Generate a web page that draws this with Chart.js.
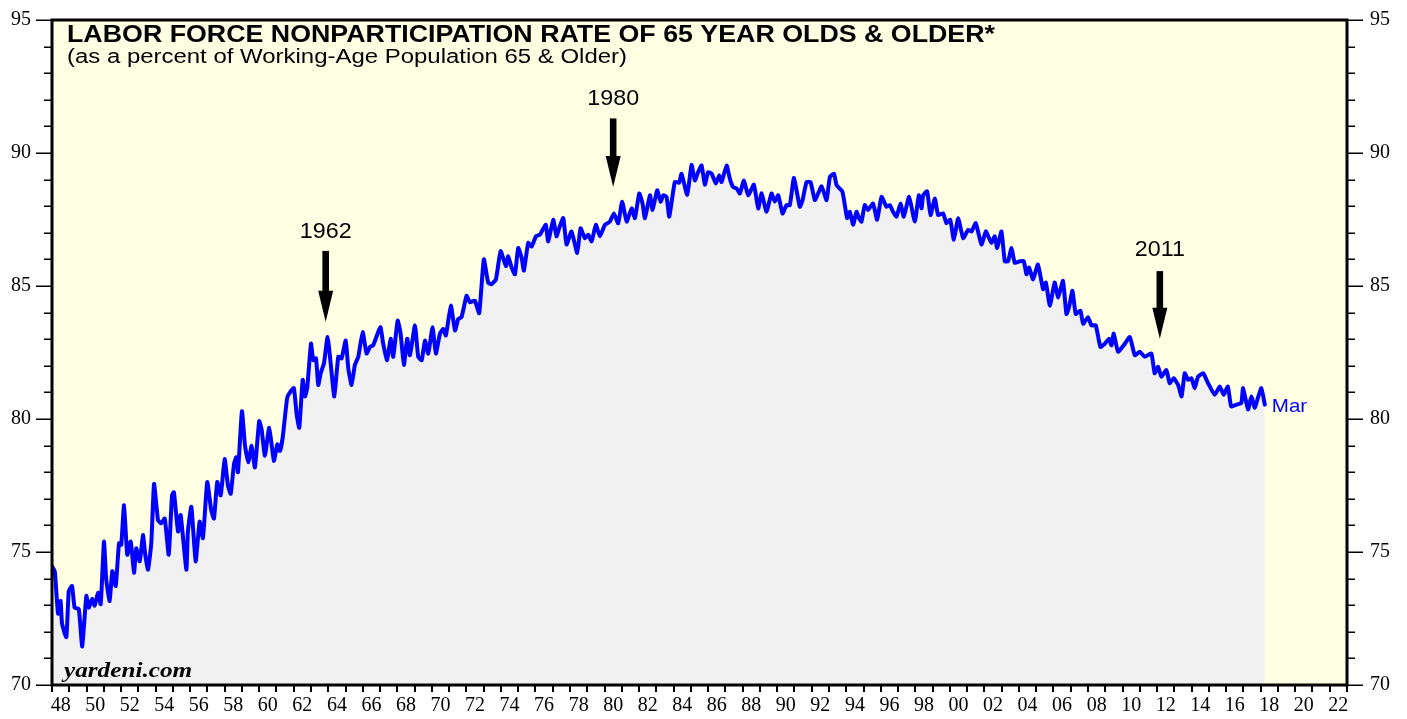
<!DOCTYPE html>
<html>
<head>
<meta charset="utf-8">
<script src="https://cdn.jsdelivr.net/npm/chart.js@4.4.1/dist/chart.umd.min.js"></script>
<style>
html,body{margin:0;padding:0;background:#ffffff;}
#wrap{width:1407px;height:719px;position:relative;overflow:hidden;}
canvas{display:block;background:#ffffff;}
</style>
</head>
<body>
<div id="wrap"><canvas id="c" width="1407" height="719"></canvas></div>
<script>
// ---------- DATA (decimal year, percent) ----------
const dates1940s = [1948.00,1948.16,1948.35,1948.50,1948.58,1948.83,1948.97,1949.16,1949.31,1949.55,1949.75,1949.99];
const rates1940s = [74.46,74.28,72.68,73.16,72.31,71.80,73.53,73.72,72.91,72.86,71.45,73.35];

const dates1950s = [1950.13,1950.32,1950.47,1950.66,1950.82,1951.01,1951.14,1951.34,1951.49,1951.69,1951.88,1952.01,1952.17,1952.36,1952.56,1952.75,1952.88,1953.08,1953.27,1953.40,1953.56,1953.75,1953.91,1954.14,1954.33,1954.53,1954.76,1954.95,1955.06,1955.30,1955.45,1955.78,1955.87,1956.07,1956.32,1956.55,1956.74,1956.99,1957.22,1957.38,1957.57,1957.77,1958.00,1958.19,1958.35,1958.54,1958.67,1958.77,1959.00,1959.18,1959.37,1959.56,1959.75];
const rates1950s = [72.91,73.24,72.98,73.47,73.04,75.39,73.97,73.16,74.28,73.72,75.33,75.27,76.76,74.90,75.39,74.22,75.14,74.65,75.64,74.90,74.34,75.33,77.56,76.20,76.08,76.26,74.90,77.13,77.25,75.77,76.39,74.34,75.77,76.70,74.65,76.14,75.52,77.63,76.57,76.26,77.63,77.13,78.49,77.50,77.19,78.31,78.56,78.00,80.29,78.99,78.37,78.99,78.18];

const dates1960s = [1960.00,1960.14,1960.33,1960.58,1960.85,1961.05,1961.20,1961.36,1961.62,1961.82,1962.01,1962.17,1962.32,1962.52,1962.65,1962.78,1963.00,1963.13,1963.29,1963.42,1963.56,1963.75,1963.96,1964.15,1964.35,1964.58,1964.77,1965.01,1965.16,1965.35,1965.54,1965.74,1965.99,1966.22,1966.41,1966.60,1966.89,1967.03,1967.18,1967.41,1967.61,1967.76,1968.02,1968.19,1968.38,1968.57,1968.73,1969.02,1969.21,1969.41,1969.60,1969.79];
const rates1960s = [79.92,79.61,78.62,79.67,78.43,79.05,78.80,79.30,80.79,81.04,81.16,80.17,79.67,81.47,80.85,81.16,82.83,82.21,82.28,81.28,81.72,82.09,83.08,82.03,80.85,82.34,82.28,82.95,81.90,81.28,82.03,82.34,83.27,82.46,82.71,82.77,83.27,83.45,82.83,82.21,83.02,82.34,83.70,83.21,82.03,83.02,82.40,83.52,82.34,82.21,82.95,82.46];

const dates1970s = [1970.04,1970.23,1970.47,1970.66,1970.81,1971.10,1971.34,1971.53,1971.72,1972.01,1972.20,1972.49,1972.74,1973.01,1973.26,1973.46,1973.71,1973.98,1974.29,1974.42,1974.62,1974.81,1975.00,1975.20,1975.33,1975.58,1975.78,1976.03,1976.26,1976.41,1976.60,1976.74,1977.03,1977.22,1977.37,1977.61,1977.80,1978.09,1978.42,1978.61,1978.86,1979.05,1979.25,1979.50,1979.73];
const rates1970s = [83.45,82.46,83.21,83.39,83.14,84.26,83.33,83.76,83.83,84.63,84.39,84.45,83.98,86.00,85.13,85.07,85.25,86.31,85.75,86.12,85.69,85.44,86.43,86.06,85.58,86.62,86.49,86.87,86.93,87.11,87.30,86.68,87.49,86.87,87.17,87.55,86.56,87.05,86.24,87.17,86.80,86.93,86.68,87.30,86.87];

const dates1980s = [1980.02,1980.31,1980.54,1980.79,1981.02,1981.28,1981.57,1981.76,1982.01,1982.20,1982.34,1982.63,1982.78,1983.05,1983.25,1983.40,1983.59,1983.75,1984.07,1984.32,1984.46,1984.79,1985.04,1985.23,1985.42,1985.62,1985.81,1986.00,1986.20,1986.45,1986.64,1986.78,1987.07,1987.26,1987.45,1987.66,1987.84,1988.07,1988.32,1988.65,1988.90,1989.10,1989.38,1989.67,1989.86];
const rates1980s = [87.30,87.42,87.73,87.36,88.17,87.42,87.92,87.55,88.48,88.10,87.55,88.41,87.86,88.60,88.17,88.41,88.35,87.61,88.91,88.88,89.22,88.43,89.55,88.97,89.28,89.53,88.81,89.28,89.22,88.85,89.16,88.91,89.53,89.03,88.72,88.66,88.48,88.97,88.41,88.81,87.92,88.48,87.79,88.48,88.17];

const dates1990s = [1990.06,1990.31,1990.54,1990.73,1990.96,1991.12,1991.31,1991.47,1991.70,1991.93,1992.18,1992.37,1992.57,1992.86,1993.05,1993.29,1993.44,1993.78,1994.05,1994.21,1994.40,1994.59,1994.74,1994.88,1995.07,1995.26,1995.55,1995.79,1996.04,1996.33,1996.52,1996.71,1996.91,1997.14,1997.33,1997.64,1997.97,1998.20,1998.36,1998.45,1998.68,1998.88,1999.13,1999.32,1999.61,1999.80];
const rates1990s = [88.41,87.73,88.04,88.04,89.06,88.60,87.98,88.23,88.91,88.91,88.23,88.48,88.75,88.23,89.10,89.22,88.79,88.54,87.55,87.79,87.30,87.79,87.55,87.42,88.04,87.86,88.10,87.49,88.35,87.98,88.04,87.79,87.61,88.10,87.61,88.35,87.42,88.41,87.92,88.41,88.56,87.67,88.29,87.67,87.73,87.36];

const dates2000s = [2000.02,2000.23,2000.48,2000.77,2001.06,2001.25,2001.50,2001.83,2002.08,2002.27,2002.41,2002.60,2002.74,2002.99,2003.18,2003.37,2003.57,2003.76,2004.05,2004.28,2004.44,2004.59,2004.82,2005.10,2005.40,2005.56,2005.79,2006.07,2006.27,2006.55,2006.75,2006.90,2007.10,2007.29,2007.56,2007.72,2008.00,2008.20,2008.45,2008.72,2008.97,2009.22,2009.36,2009.49,2009.74];
const rates2000s = [87.49,86.74,87.55,86.80,87.11,87.05,87.36,86.56,87.05,86.80,86.62,86.87,86.43,87.05,85.93,85.93,86.43,85.87,85.93,85.93,85.44,85.69,85.25,85.81,84.88,85.13,84.26,85.13,84.57,85.19,83.95,84.20,84.82,83.95,84.07,83.58,83.83,83.52,83.52,82.71,82.83,83.02,82.77,83.21,82.53];

const dates2010s = [2010.07,2010.42,2010.71,2011.00,2011.29,2011.67,2011.86,2012.06,2012.25,2012.54,2012.73,2012.96,2013.22,2013.42,2013.60,2013.80,2013.99,2014.18,2014.37,2014.67,2014.95,2015.34,2015.63,2015.86,2016.10,2016.29,2016.59,2016.88,2016.98,2017.27,2017.46,2017.65,2017.84,2018.04,2018.24];
const rates2010s = [82.77,83.08,82.40,82.53,82.34,82.46,81.72,81.96,81.59,81.84,81.35,81.53,81.28,80.85,81.72,81.47,81.53,81.16,81.59,81.72,81.35,80.91,81.22,80.91,81.22,80.47,80.54,80.60,81.16,80.36,80.85,80.42,80.79,81.16,80.54];

// tick labels
const xTickLabels = ['48','50','52','54','56','58','60','62','64','66','68','70','72','74','76','78','80','82','84','86','88','90','92','94','96','98','00','02','04','06','08','10','12','14','16','18','20','22'];
const yTickLabels = [70,75,80,85,90,95];

// texts
const chartTitle = 'LABOR FORCE NONPARTICIPATION RATE OF 65 YEAR OLDS & OLDER*';
const chartSubtitle = '(as a percent of Working-Age Population 65 & Older)';
const sourceText = 'yardeni.com';
const lastLabel = 'Mar';

// annotation arrows (year, value where label sits, arrow start, arrow tip)
const noteLabels = ['1962','1980','2011'];
const noteYears = [1963.85,1980.50,2012.16];
const noteTextAt = [87.11,92.10,86.44];
const noteFrom = [86.32,91.30,85.56];
const noteTo = [83.66,88.72,83.02];

// ---------- BUILD ----------
const allDates = [].concat(dates1940s,dates1950s,dates1960s,dates1970s,dates1980s,dates1990s,dates2000s,dates2010s);
const allRates = [].concat(rates1940s,rates1950s,rates1960s,rates1970s,rates1980s,rates1990s,rates2000s,rates2010s);
const points = allDates.map((d,i)=>({x:d,y:allRates[i]}));

const X_MIN = 1948, X_MAX = 2023, Y_MIN = 70, Y_MAX = 95;
const SERIF = '"Liberation Serif","Times New Roman",serif';
const SANS = '"Liberation Sans",Arial,Helvetica,sans-serif';

function stretchText(ctx, text, x, y, font, sx, align, color){
  ctx.save();
  ctx.font = font;
  ctx.fillStyle = color || '#000';
  ctx.textAlign = align || 'left';
  ctx.textBaseline = 'alphabetic';
  ctx.translate(x, y);
  ctx.scale(sx, 1);
  ctx.fillText(text, 0, 0);
  ctx.restore();
}

const bgPlugin = {
  id: 'bgPlugin',
  beforeDraw(chart){
    const {ctx, chartArea:a} = chart;
    ctx.save();
    ctx.fillStyle = '#FFFFE3';
    ctx.fillRect(a.left, a.top, a.right - a.left, a.bottom - a.top);
    ctx.restore();
  }
};

const overlayPlugin = {
  id: 'overlayPlugin',
  afterDraw(chart){
    const {ctx, chartArea:a} = chart;
    const xs = chart.scales.x, ys = chart.scales.y;
    ctx.save();
    // y ticks (left and right)
    ctx.strokeStyle = '#000';
    ctx.lineWidth = 1.5;
    for (let v = Y_MIN; v <= Y_MAX; v++){
      const py = Math.round(ys.getPixelForValue(v)) + 0.25;
      const len = (v % 5 === 0) ? 16 : 8;
      ctx.beginPath();
      ctx.moveTo(a.left - len, py); ctx.lineTo(a.left, py);
      ctx.moveTo(a.right, py); ctx.lineTo(a.right + len, py);
      ctx.stroke();
    }
    // x ticks every year
    ctx.lineWidth = 2;
    for (let yr = X_MIN; yr <= X_MAX; yr++){
      const px = Math.round(xs.getPixelForValue(yr));
      ctx.beginPath();
      ctx.moveTo(px, a.bottom); ctx.lineTo(px, a.bottom + 7);
      ctx.stroke();
    }
    // frame
    ctx.lineWidth = 3;
    ctx.strokeRect(a.left, a.top, a.right - a.left, a.bottom - a.top);

    // title & subtitle
    ctx.font = 'bold 23px ' + SANS;
    const tw = ctx.measureText(chartTitle).width;
    stretchText(ctx, chartTitle, 67, 42, 'bold 23px ' + SANS, 928 / tw, 'left');
    ctx.font = '19.5px ' + SANS;
    const sw = ctx.measureText(chartSubtitle).width;
    stretchText(ctx, chartSubtitle, 67, 63, '19.5px ' + SANS, 560 / sw, 'left');

    // source
    stretchText(ctx, sourceText, 64, 677, 'bold italic 21px ' + SERIF, 1.2, 'left');

    // arrows
    for (let i = 0; i < noteLabels.length; i++){
      const px = xs.getPixelForValue(noteYears[i]);
      const pyText = ys.getPixelForValue(noteTextAt[i]);
      const pyFrom = ys.getPixelForValue(noteFrom[i]);
      const pyTo = ys.getPixelForValue(noteTo[i]);
      stretchText(ctx, noteLabels[i], px, pyText + 8, '22px ' + SANS, 1.06, 'center');
      const headLen = 31, headW = 7.5;
      ctx.fillStyle = '#000';
      ctx.fillRect(px - 3.3, pyFrom, 6.6, (pyTo - headLen) - pyFrom + 1);
      ctx.beginPath();
      ctx.moveTo(px - headW, pyTo - headLen);
      ctx.lineTo(px + headW, pyTo - headLen);
      ctx.lineTo(px, pyTo);
      ctx.closePath();
      ctx.fill();
    }

    // last label
    const last = points[points.length - 1];
    const lx = xs.getPixelForValue(last.x) + 7;
    const ly = ys.getPixelForValue(last.y);
    stretchText(ctx, lastLabel, lx, ly + 7, '19px ' + SANS, 1.08, 'left', '#0000FF');
    ctx.restore();
  }
};

const ctx = document.getElementById('c').getContext('2d');
new Chart(ctx, {
  type: 'line',
  data: {
    datasets: [{
      data: points,
      borderColor: '#0000FF',
      borderWidth: 4,
      backgroundColor: '#F1F1F1',
      fill: 'start',
      pointRadius: 0,
      tension: 0.15,
      borderJoinStyle: 'round',
      borderCapStyle: 'round'
    }]
  },
  options: {
    responsive: false,
    animation: false,
    devicePixelRatio: 1,
    layout: { padding: { top: 13, left: 0, right: 0, bottom: 0 } },
    plugins: { legend: { display: false }, tooltip: { enabled: false }, title: { display: false } },
    scales: {
      x: {
        type: 'linear',
        min: X_MIN, max: X_MAX,
        border: { display: false },
        grid: { display: true, drawOnChartArea: false, drawTicks: true, tickLength: 7, tickColor: 'rgba(0,0,0,0)' },
        ticks: {
          stepSize: 0.5,
          autoSkip: false,
          maxRotation: 0, minRotation: 0,
          padding: 2,
          color: '#000',
          font: { family: SERIF, size: 20 },
          callback: function(v){
            const f = Math.floor(v + 1e-6);
            if (Math.abs(v - f - 0.5) > 1e-6) return '';
            if ((f - X_MIN) % 2 !== 0) return '';
            return xTickLabels[(f - X_MIN) / 2] || '';
          }
        },
        afterFit: s => { s.height = 34; }
      },
      y: {
        type: 'linear', position: 'left',
        min: Y_MIN, max: Y_MAX,
        border: { display: false },
        grid: { display: true, drawOnChartArea: false, drawTicks: true, tickLength: 15, tickColor: 'rgba(0,0,0,0)' },
        ticks: {
          stepSize: 1, autoSkip: false, padding: 6, color: '#000',
          font: { family: SERIF, size: 20 },
          callback: v => yTickLabels.includes(v) ? String(v) : ''
        },
        afterFit: s => { s.width = 52; }
      },
      y2: {
        type: 'linear', position: 'right',
        min: Y_MIN, max: Y_MAX,
        border: { display: false },
        grid: { display: true, drawOnChartArea: false, drawTicks: true, tickLength: 15, tickColor: 'rgba(0,0,0,0)' },
        ticks: {
          stepSize: 1, autoSkip: false, padding: 8, color: '#000',
          font: { family: SERIF, size: 20 },
          callback: v => yTickLabels.includes(v) ? String(v) : ''
        },
        afterFit: s => { s.width = 60; }
      }
    }
  },
  plugins: [bgPlugin, overlayPlugin]
});
</script>
</body>
</html>
